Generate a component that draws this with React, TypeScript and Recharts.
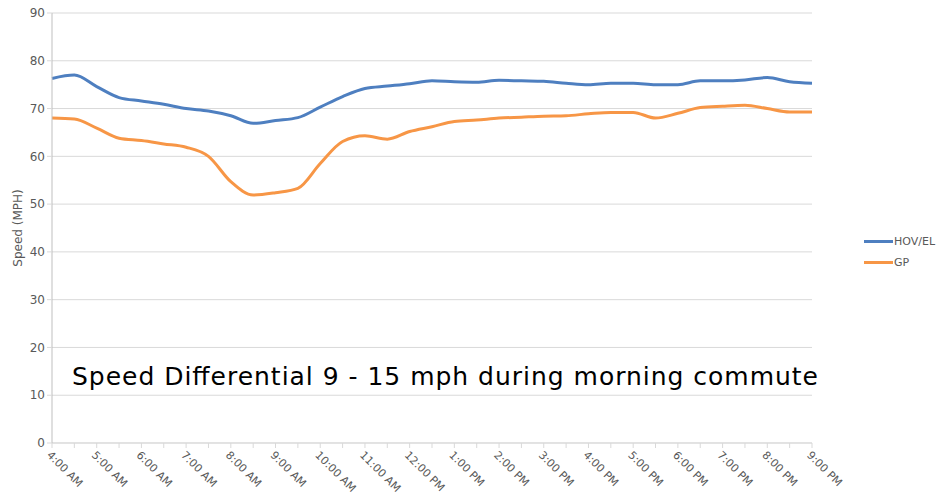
import React from "react"
import { LineChart, Line, XAxis, YAxis, CartesianGrid, Legend } from "recharts"

const times = [
  "4:00 AM", "4:30 AM", "5:00 AM", "5:30 AM", "6:00 AM", "6:30 AM", "7:00 AM", "7:30 AM",
  "8:00 AM", "8:30 AM", "9:00 AM", "9:30 AM", "10:00 AM", "10:30 AM", "11:00 AM", "11:30 AM",
  "12:00 PM", "12:30 PM", "1:00 PM", "1:30 PM", "2:00 PM", "2:30 PM", "3:00 PM", "3:30 PM",
  "4:00 PM", "4:30 PM", "5:00 PM", "5:30 PM", "6:00 PM", "6:30 PM", "7:00 PM", "7:30 PM",
  "8:00 PM", "8:30 PM", "9:00 PM",
]

const hovEl = [
  76.3, 77.0, 74.6, 72.3, 71.6, 70.9, 70.0, 69.5, 68.5, 66.9, 67.5, 68.1, 70.3, 72.5, 74.2, 74.7,
  75.2, 75.8, 75.6, 75.5, 75.9, 75.8, 75.7, 75.3, 75.0, 75.3, 75.3, 75.0, 75.0, 75.8, 75.8, 76.0,
  76.5, 75.6, 75.3,
]

const gp = [
  68.0, 67.8, 65.9, 63.8, 63.3, 62.6, 61.9, 60.0, 54.7, 51.9, 52.4, 53.3, 58.5, 63.1, 64.3, 63.6,
  65.2, 66.2, 67.3, 67.6, 68.0, 68.2, 68.4, 68.5, 68.9, 69.2, 69.2, 68.0, 69.0, 70.2, 70.5, 70.7,
  70.0, 69.3, 69.3,
]

const yTicks = [0, 10, 20, 30, 40, 50, 60, 70, 80, 90]

const data = times.map((t, i) => ({ time: t, hov: hovEl[i], gp: gp[i] }))

const FONT = "'DejaVu Sans', sans-serif"
const GRAY = "#595959"
const BLUE = "#4e7fc0"
const ORANGE = "#f79646"

function TimeTick(props: any) {
  const { x, y, payload } = props
  const label: string = payload.value
  if (label.includes(":30")) return null
  return (
    <text
      transform={`translate(${x - 3}, ${y + 3}) rotate(45)`}
      textAnchor="start"
      fontSize={11}
      fill={GRAY}
      fontFamily={FONT}
      dy="0.35em"
    >
      {label}
    </text>
  )
}

function LegendBox() {
  const items = [
    { name: "HOV/EL", color: BLUE },
    { name: "GP", color: ORANGE },
  ]
  return (
    <div style={{ fontFamily: FONT, fontSize: 11, color: GRAY }}>
      {items.map((it) => (
        <div key={it.name} style={{ display: "flex", alignItems: "center", height: 21 }}>
          <span style={{ display: "inline-block", width: 29, height: 3, background: it.color, marginRight: 1 }} />
          <span>{it.name}</span>
        </div>
      ))}
    </div>
  )
}

export default function App() {
  return (
    <div style={{ position: "fixed", left: 0, top: 0, width: 940, height: 499, background: "#fff" }}>
      <LineChart width={940} height={499} data={data} margin={{ top: 13, right: 52, left: 12, bottom: 0 }}>
        <CartesianGrid vertical={false} stroke="#d9d9d9" />
        <XAxis
          dataKey="time"
          interval={0}
          padding={{ left: 0, right: 0 }}
          tick={<TimeTick />}
          tickSize={5}
          axisLine={{ stroke: "#d9d9d9" }}
          tickLine={{ stroke: "#d9d9d9" }}
          height={56}
        />
        <YAxis
          domain={[0, 90]}
          ticks={yTicks}
          width={40}
          tickSize={5}
          tick={{ fill: GRAY, fontSize: 12, fontFamily: FONT }}
          axisLine={{ stroke: "#bfbfbf" }}
          tickLine={{ stroke: "#d9d9d9" }}
          label={{
            value: "Speed (MPH)",
            angle: -90,
            position: "insideLeft",
            offset: 6,
            style: { fill: GRAY, fontSize: 12, fontFamily: FONT, textAnchor: "middle" },
          }}
        />
        <Legend
          layout="vertical"
          verticalAlign="middle"
          align="right"
          content={<LegendBox />}
          wrapperStyle={{ left: 864, top: 231, width: 76 }}
        />
        <Line
          type="monotone"
          dataKey="hov"
          name="HOV/EL"
          stroke={BLUE}
          strokeWidth={3}
          dot={false}
          isAnimationActive={false}
        />
        <Line
          type="monotone"
          dataKey="gp"
          name="GP"
          stroke={ORANGE}
          strokeWidth={3}
          dot={false}
          isAnimationActive={false}
        />
      </LineChart>
      <svg width={940} height={499} style={{ position: "absolute", left: 0, top: 0, pointerEvents: "none" }}>
        <text x={72} y={385} fontSize={25} fontFamily={FONT} fill="#000" textLength={746} lengthAdjust="spacing">
          Speed Differential 9 - 15 mph during morning commute
        </text>
      </svg>
    </div>
  )
}
